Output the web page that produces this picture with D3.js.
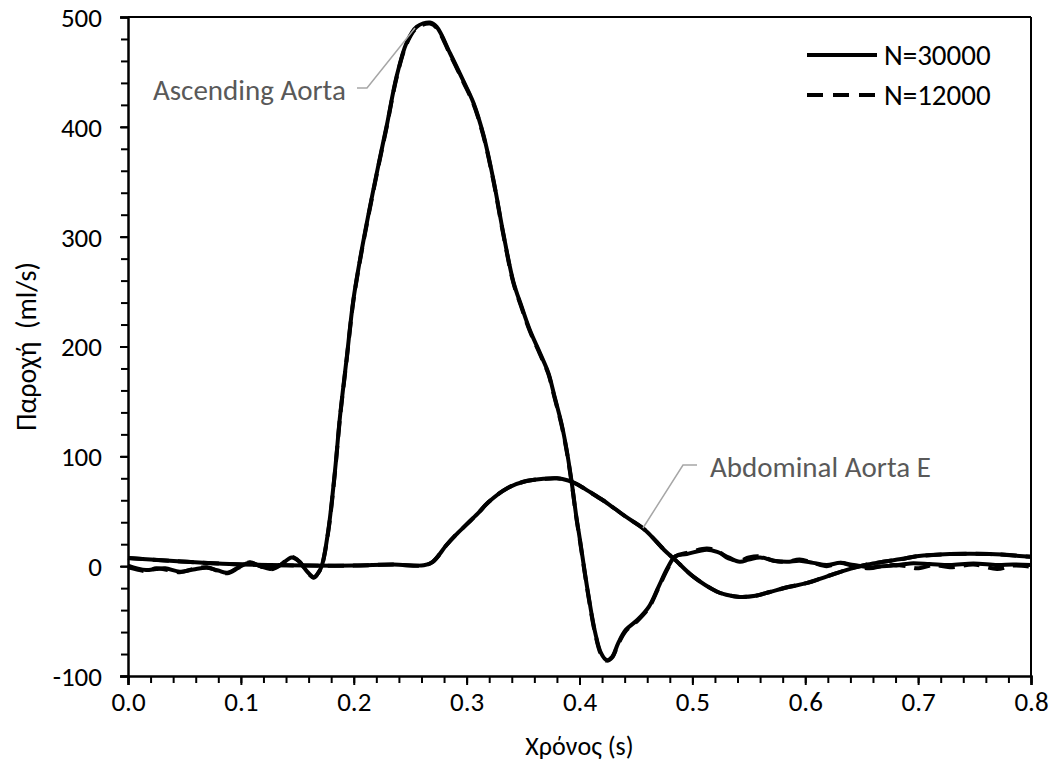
<!DOCTYPE html>
<html><head><meta charset="utf-8">
<script src="https://cdn.jsdelivr.net/npm/d3@7/dist/d3.min.js"></script>
<style>
html,body{margin:0;padding:0;background:#fff;}
svg text{font-family:Calibri,Carlito,"Open Sans",sans-serif;white-space:pre;}
</style></head>
<body>
<svg id="chart" width="1054" height="773"></svg>
<script>
// ---- data ----
const xTicks = [0.0,0.1,0.2,0.3,0.4,0.5,0.6,0.7,0.8];
const yTicks = [-100,0,100,200,300,400,500];
const seriesNames = ["N=30000","N=12000"];
const xTitle = "Χρόνος (s)";
const yTitle = "Παροχή  (ml/s)";

// Ascending aorta, N=30000 : time (s)
const ascT30 = [0.000,0.008,0.016,0.025,0.033,0.046,0.058,0.070,0.080,0.088,0.098,0.108,0.117,0.126,0.135,0.145,0.152,0.158,0.1645,0.168,0.1716,0.1775,0.1834,0.1878,0.1937,0.1996,0.2055,0.213,0.2218,0.2292,0.238,0.247,0.2557,0.2675,0.2735,0.2853,0.297,0.306,0.3148,0.3237,0.3325,0.3414,0.3488,0.356,0.365,0.3724,0.378,0.384,0.3886,0.393,0.3972,0.4004,0.4072,0.414,0.419,0.424,0.429,0.4343,0.441,0.4512,0.4614,0.4699,0.4783,0.485,0.495,0.5127,0.522,0.532,0.542,0.550,0.560,0.572,0.5836,0.595,0.607,0.619,0.631,0.643,0.657,0.668,0.678,0.693,0.710,0.728,0.749,0.770,0.784,0.800];
const ascQ30 = [0.5,-2,-3.5,-2.5,-2,-5,-3,-1.5,-4,-6,-1,3,0,-2.5,1,8,4,-4,-10,-7,0,33,87,136,189,242,279,320,365,401,446,477,491,495,491,467,442,422,393,352,303,259,236,215,194,176,154,130,106,77,45,24,-22,-61,-79,-85.5,-82.5,-70,-58,-49,-37,-19,-1,9,11,15,13,8,4,6,8,5,4,5,3,1,3,1,-1,0,0.5,2.5,2,1,2.5,1,1.5,1];

// Ascending aorta, N=12000
const ascT12 = [0.000,0.008,0.016,0.025,0.033,0.046,0.058,0.070,0.080,0.088,0.098,0.108,0.117,0.126,0.135,0.145,0.152,0.158,0.1645,0.168,0.1716,0.1775,0.1834,0.1878,0.1937,0.1996,0.2055,0.213,0.2218,0.2292,0.238,0.247,0.2557,0.2675,0.2735,0.2853,0.297,0.306,0.3148,0.3237,0.3325,0.3414,0.3488,0.356,0.365,0.3724,0.378,0.384,0.3886,0.393,0.3972,0.4004,0.4072,0.414,0.419,0.424,0.429,0.4343,0.441,0.4512,0.4614,0.4699,0.4783,0.485,0.495,0.5127,0.522,0.532,0.542,0.550,0.560,0.572,0.5836,0.595,0.607,0.619,0.631,0.643,0.657,0.668,0.678,0.690,0.699,0.714,0.728,0.749,0.770,0.784,0.800];
const ascQ12 = [-1,-3,-4.5,-2,-3,-5.5,-2.5,-1,-4.5,-6.5,-1.5,3.5,0,-3,1,8.5,4,-4.5,-10.5,-7,0,32,86,135,188,241,278,319,364,400,445,476,490,494,490,466,441,421,392,351,302,258,235,214,193,175,153,129,105,76,44,23,-23,-62,-80,-86,-83,-71,-59,-50,-38,-20,-2,9,12,16,14,7,5,8,9,5,4,6,3,0,3,0,-2,0,1,0,-2,1,-1,1.5,-2.5,0.5,-0.5];

// Abdominal aorta E, N=30000
const abdT30 = [0.000,0.020,0.052,0.090,0.126,0.160,0.200,0.235,0.262,0.270,0.282,0.290,0.300,0.310,0.319,0.336,0.353,0.368,0.380,0.390,0.397,0.410,0.4208,0.431,0.441,0.458,0.4748,0.485,0.5008,0.5215,0.530,0.542,0.556,0.5687,0.585,0.601,0.620,0.6426,0.655,0.669,0.685,0.6987,0.728,0.7637,0.800];
const abdQ30 = [7.5,6,4,2,1,0.5,0.5,1.5,0.8,4,19,28,38,48,58,71,77.5,79.5,80,78,75,67,60,52.5,45,33,15,5.5,-9.5,-23,-26,-28,-27,-23.5,-19,-15.5,-9,-1.5,1.5,4,6.5,9,11,11,8.5];

// Abdominal aorta E, N=12000
const abdT12 = [0.000,0.020,0.052,0.090,0.126,0.160,0.200,0.235,0.262,0.270,0.282,0.290,0.300,0.310,0.319,0.336,0.353,0.368,0.380,0.390,0.397,0.410,0.4208,0.431,0.441,0.458,0.4748,0.485,0.5008,0.5215,0.530,0.542,0.556,0.5687,0.585,0.601,0.620,0.6426,0.655,0.669,0.685,0.6987,0.728,0.7637,0.800];
const abdQ12 = [7.5,6,4,2,1,0.5,0.5,1.5,0.8,4,19,28,38,48,58,71,77.5,79.5,80,78,75,67,60,52.5,45,33,15,5.5,-9.5,-23,-26,-28,-27,-23.5,-19,-15.5,-9,-1.5,1.5,4,6.5,9,11,11,8.5];

const annotations = [
  {text:"Ascending Aorta", tx:153, ty:90, anchor:"start", pts:[[357,88],[367,88],[415,28]]},
  {text:"Abdominal Aorta E", tx:710, ty:467, anchor:"start", pts:[[697,465],[683,465],[643,528]]}
];

// ---- chart ----
const svg = d3.select("#chart");
const L = 128, R = 1031, T = 17, B = 676;
const x = d3.scaleLinear().domain([0,0.8]).range([L,R]);
const y = d3.scaleLinear().domain([-100,500]).range([B,T]);
const FS_TICK = 27, FS_TITLE = 26, FS_YTITLE = 28, FS_LAB = 29;
const FONT = "Calibri,Carlito,'Open Sans',sans-serif";

// frame (top/right)
svg.append("line").attr("x1",L).attr("x2",R).attr("y1",T).attr("y2",T).attr("stroke","#000").attr("stroke-width",2);
svg.append("line").attr("x1",R).attr("x2",R).attr("y1",T).attr("y2",B).attr("stroke","#000").attr("stroke-width",2);

// minor ticks
const gxm = svg.append("g").attr("transform",`translate(0,${B})`)
  .call(d3.axisBottom(x).tickValues(d3.range(0,0.8001,0.02)).tickSize(7).tickFormat(""));
const gym = svg.append("g").attr("transform",`translate(${L},0)`)
  .call(d3.axisLeft(y).tickValues(d3.range(-100,500.1,20)).tickSize(7).tickFormat(""));
[gxm,gym].forEach(g=>{g.select(".domain").remove();g.selectAll("line").attr("stroke","#000").attr("stroke-width",2);});

// major axes
const gx = svg.append("g").attr("transform",`translate(0,${B})`)
  .call(d3.axisBottom(x).tickValues(xTicks).tickSize(9).tickPadding(7).tickFormat(d=>d.toFixed(1)));
const gy = svg.append("g").attr("transform",`translate(${L},0)`)
  .call(d3.axisLeft(y).tickValues(yTicks).tickSize(8).tickPadding(18).tickFormat(d=>String(d)));
[gx,gy].forEach(g=>{
  g.select(".domain").attr("stroke","#000").attr("stroke-width",2.5);
  g.selectAll("line").attr("stroke","#000").attr("stroke-width",2);
  g.selectAll("text").attr("font-size",FS_TICK).attr("fill","#000").style("font-family",FONT);
});
gy.selectAll("text").attr("dy","0.35em");

// titles
svg.append("text").attr("x",(L+R)/2).attr("y",746).attr("dy","0.35em").attr("text-anchor","middle")
  .attr("font-size",FS_TITLE).text(xTitle);
svg.append("text").attr("transform",`translate(26,${(T+B)/2}) rotate(-90)`).attr("dy","0.35em")
  .attr("text-anchor","middle").attr("font-size",FS_YTITLE).text(yTitle);

// lines
const line = d3.line().x(d=>x(d[0])).y(d=>y(d[1])).curve(d3.curveCatmullRom.alpha(0.5));
const zip = (a,b)=>a.map((t,i)=>[t,b[i]]);
const solidSeries = [zip(ascT30,ascQ30), zip(abdT30,abdQ30)];
const dashSeries = [zip(ascT12,ascQ12), zip(abdT12,abdQ12)];
const plot = svg.append("g");
solidSeries.forEach(s=>plot.append("path").attr("d",line(s)).attr("fill","none").attr("stroke","#000").attr("stroke-width",4).attr("stroke-linejoin","round"));
dashSeries.forEach(s=>plot.append("path").attr("d",line(s)).attr("fill","none").attr("stroke","#000").attr("stroke-width",4).attr("stroke-dasharray","16,9"));

// annotations
annotations.forEach(a=>{
  svg.append("polyline").attr("points",a.pts.map(p=>p.join(",")).join(" "))
    .attr("fill","none").attr("stroke","#a6a6a6").attr("stroke-width",1.5);
  svg.append("text").attr("x",a.tx).attr("y",a.ty).attr("dy","0.35em").attr("text-anchor",a.anchor)
    .attr("font-size",FS_LAB).attr("fill","#595959").text(a.text);
});

// legend
const legY = [55,95];
const dashes = [null,"16,10"];
seriesNames.forEach((n,i)=>{
  svg.append("line").attr("x1",807).attr("x2",877).attr("y1",legY[i]).attr("y2",legY[i])
    .attr("stroke","#000").attr("stroke-width",4).attr("stroke-dasharray",dashes[i]);
  svg.append("text").attr("x",884).attr("y",legY[i]).attr("dy","0.35em").attr("font-size",FS_LAB).text(n);
});
</script>
</body></html>
